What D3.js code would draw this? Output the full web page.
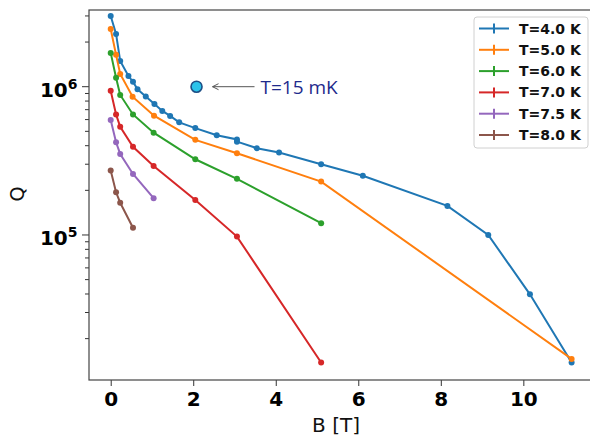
<!DOCTYPE html>
<html>
<head>
<meta charset="utf-8">
<script src="https://cdn.jsdelivr.net/npm/d3@7"></script>
<style>
  html, body { margin: 0; padding: 0; background: #fff; }
  #chart { width: 590px; height: 437px; }
</style>
</head>
<body>
<div id="chart"></div>
<script>
// Q vs B, one series per temperature
const seriesNames = ["T=4.0 K", "T=5.0 K", "T=6.0 K", "T=7.0 K", "T=7.5 K", "T=8.0 K"];
const seriesColors = ["#1f77b4", "#ff7f0e", "#2ca02c", "#d62728", "#9467bd", "#8c564b"];

const B_40 = [0, 0.13, 0.23, 0.43, 0.54, 0.65, 0.85, 1.06, 1.25, 1.44, 1.66, 2.05, 2.57, 3.06, 3.06, 3.54, 4.08, 5.1, 6.11, 8.16, 9.15, 10.16, 11.17];
const Q_40 = [3.0e6, 2.27e6, 1.49e6, 1.18e6, 1.08e6, 9.6e5, 8.6e5, 7.65e5, 6.86e5, 6.35e5, 5.75e5, 5.26e5, 4.7e5, 4.41e5, 4.26e5, 3.85e5, 3.6e5, 3.0e5, 2.51e5, 1.57e5, 1.0e5, 3.98e4, 1.38e4];

const B_50 = [0, 0.13, 0.23, 0.53, 1.05, 2.05, 3.06, 5.1, 11.17];
const Q_50 = [2.45e6, 1.64e6, 1.22e6, 8.57e5, 6.37e5, 4.38e5, 3.56e5, 2.29e5, 1.46e4];

const B_60 = [0, 0.13, 0.23, 0.54, 1.04, 2.05, 3.06, 5.1];
const Q_60 = [1.69e6, 1.15e6, 8.8e5, 6.5e5, 4.9e5, 3.24e5, 2.39e5, 1.2e5];

const B_70 = [0, 0.13, 0.23, 0.54, 1.04, 2.05, 3.06, 5.1];
const Q_70 = [9.4e5, 6.5e5, 5.37e5, 3.93e5, 2.92e5, 1.72e5, 9.75e4, 1.38e4];

const B_75 = [0, 0.13, 0.23, 0.54, 1.04];
const Q_75 = [5.96e5, 4.22e5, 3.52e5, 2.58e5, 1.77e5];

const B_80 = [0, 0.13, 0.23, 0.54];
const Q_80 = [2.72e5, 1.94e5, 1.65e5, 1.12e5];

// single low-temperature point
const mkB = 2.08;
const mkQ = 1.0e6;
const mkLabel = "T=15 mK";

const xTicks = [0, 2, 4, 6, 8, 10];
const yMajor = [1e5, 1e6];
const yMinor = [2e4, 3e4, 4e4, 5e4, 6e4, 7e4, 8e4, 9e4, 2e5, 3e5, 4e5, 5e5, 6e5, 7e5, 8e5, 9e5, 2e6, 3e6];

function drawChart(sel) {
  const width = 590, height = 437;
  const m = { left: 89, right: 591, top: 10, bottom: 380 };
  const tickFont = "'DejaVu Sans', sans-serif";

  const svg = d3.select(sel).append("svg")
    .attr("width", width)
    .attr("height", height)
    .style("display", "block");

  const x = d3.scaleLinear().domain([-0.526, 11.64]).range([m.left, m.right]);
  const y = d3.scaleLog().domain([1.052e4, 3.29e6]).range([m.bottom, m.top]);

  const series = [
    [B_40, Q_40], [B_50, Q_50], [B_60, Q_60],
    [B_70, Q_70], [B_75, Q_75], [B_80, Q_80]
  ].map((s, i) => ({
    name: seriesNames[i],
    color: seriesColors[i],
    pts: s[0].map((b, j) => ({ b: b, q: s[1][j] }))
  }));

  // x axis
  const gx = svg.append("g")
    .attr("transform", `translate(0,${m.bottom})`)
    .call(d3.axisBottom(x).tickValues(xTicks).tickSize(6).tickPadding(6).tickFormat(d3.format("d")));
  gx.select(".domain").remove();
  gx.selectAll(".tick line").attr("stroke", "#333").attr("stroke-width", 1);
  gx.selectAll("text")
    .attr("fill", "#000")
    .attr("font-family", tickFont)
    .attr("font-weight", "bold")
    .attr("font-size", 20);

  // y axis, major ticks with 10^n labels
  const gy = svg.append("g").attr("transform", `translate(${m.left},0)`);
  gy.selectAll("line.major").data(yMajor).join("line")
    .attr("class", "major")
    .attr("x1", -7).attr("x2", 0)
    .attr("y1", d => y(d)).attr("y2", d => y(d))
    .attr("stroke", "#333");
  gy.selectAll("line.minor").data(yMinor).join("line")
    .attr("class", "minor")
    .attr("x1", -4).attr("x2", 0)
    .attr("y1", d => y(d)).attr("y2", d => y(d))
    .attr("stroke", "#333");
  const lbl = gy.selectAll("text").data(yMajor).join("text")
    .attr("x", -11.5)
    .attr("y", d => y(d) + 10)
    .attr("text-anchor", "end")
    .attr("font-family", tickFont)
    .attr("font-weight", "bold")
    .attr("font-size", 20)
    .attr("fill", "#000");
  lbl.append("tspan").text("10");
  lbl.append("tspan")
    .attr("font-size", 14)
    .attr("dy", -8)
    .text(d => Math.round(Math.log10(d)));

  // spines
  svg.append("rect")
    .attr("x", m.left).attr("y", m.top)
    .attr("width", m.right - m.left).attr("height", m.bottom - m.top)
    .attr("fill", "none")
    .attr("stroke", "#444")
    .attr("stroke-width", 1.2);

  // axis titles
  svg.append("text")
    .attr("x", 336).attr("y", 432)
    .attr("text-anchor", "middle")
    .attr("font-family", tickFont)
    .attr("font-size", 20)
    .attr("fill", "#111")
    .text("B [T]");
  svg.append("text")
    .attr("transform", "translate(24,194) rotate(-90)")
    .attr("text-anchor", "middle")
    .attr("font-family", tickFont)
    .attr("font-size", 19)
    .attr("fill", "#111")
    .text("Q");

  // lines + markers
  const plot = svg.append("g");
  const line = d3.line().x(d => x(d.b)).y(d => y(d.q));
  series.forEach(s => {
    const g = plot.append("g");
    g.append("path")
      .datum(s.pts)
      .attr("d", line)
      .attr("fill", "none")
      .attr("stroke", s.color)
      .attr("stroke-width", 2);
    g.selectAll("circle").data(s.pts).join("circle")
      .attr("cx", d => x(d.b))
      .attr("cy", d => y(d.q))
      .attr("r", 3)
      .attr("fill", s.color);
  });

  // 15 mK point with arrow
  const cx = x(mkB), cy = y(mkQ);
  svg.append("circle")
    .attr("cx", cx).attr("cy", cy).attr("r", 5.5)
    .attr("fill", "#2bc3ea")
    .attr("stroke", "#1d4f86")
    .attr("stroke-width", 1.6);
  svg.append("line")
    .attr("x1", cx + 58).attr("x2", cx + 16)
    .attr("y1", cy).attr("y2", cy)
    .attr("stroke", "#555").attr("stroke-width", 1);
  svg.append("path")
    .attr("d", `M${cx + 22},${cy - 3}L${cx + 16},${cy}L${cx + 22},${cy + 3}`)
    .attr("fill", "none")
    .attr("stroke", "#555").attr("stroke-width", 1);
  svg.append("text")
    .attr("x", cx + 64).attr("y", cy + 7)
    .attr("font-family", "'Open Sans', sans-serif")
    .attr("font-size", 19)
    .attr("fill", "#1e2a8c")
    .text(mkLabel);

  // legend
  const lg = svg.append("g").attr("transform", "translate(474,17)");
  lg.append("rect")
    .attr("width", 114).attr("height", 131)
    .attr("rx", 3)
    .attr("fill", "#fff").attr("fill-opacity", 0.8)
    .attr("stroke", "#d0d0d0");
  const item = lg.selectAll("g.item").data(series).join("g")
    .attr("class", "item")
    .attr("transform", (d, i) => `translate(0,${11.5 + i * 21.3})`);
  item.append("line")
    .attr("x1", 5).attr("x2", 35)
    .attr("stroke", d => d.color).attr("stroke-width", 2);
  item.append("line")
    .attr("x1", 20).attr("x2", 20).attr("y1", -5).attr("y2", 5)
    .attr("stroke", d => d.color).attr("stroke-width", 2);
  item.append("text")
    .attr("x", 45).attr("y", 5)
    .attr("font-family", tickFont)
    .attr("font-weight", "bold")
    .attr("font-size", 14)
    .attr("fill", "#111")
    .text(d => d.name);
}

drawChart("#chart");
</script>
</body>
</html>
